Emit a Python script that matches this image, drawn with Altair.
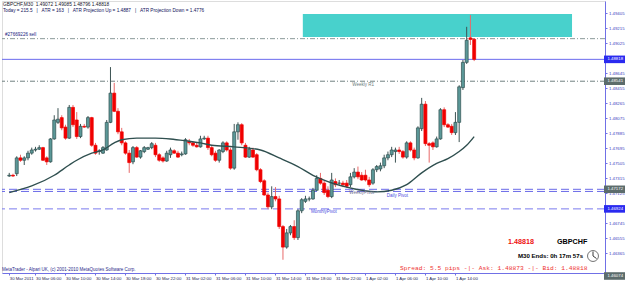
import altair as alt
import pandas as pd

# ---------------- data ----------------
opens = [
    1.4734, 1.4735, 1.4737, 1.4757, 1.4754, 1.4757, 1.4763, 1.4767, 1.4768, 1.4770,
    1.4757, 1.4752, 1.4781, 1.4802, 1.4808, 1.4796, 1.4782, 1.4821, 1.4805, 1.4784,
    1.4797, 1.4796, 1.4808, 1.4773, 1.4765, 1.4763, 1.4767, 1.4802, 1.4839, 1.4816,
    1.4790, 1.4776, 1.4763, 1.4752, 1.4770, 1.4758, 1.4765, 1.4768, 1.4770, 1.4773,
    1.4761, 1.4757, 1.4753, 1.4761, 1.4766, 1.4763, 1.4761, 1.4762, 1.4778, 1.4776,
    1.4773, 1.4771, 1.4781, 1.4782, 1.4770, 1.4763, 1.4754, 1.4765, 1.4776, 1.4767,
    1.4744, 1.4790, 1.4799, 1.4773, 1.4758, 1.4767, 1.4761, 1.4742, 1.4728, 1.4710,
    1.4695, 1.4708, 1.4705, 1.4670, 1.4644, 1.4662, 1.4670, 1.4656, 1.4690, 1.4702,
    1.4705, 1.4705, 1.4716, 1.4731, 1.4725, 1.4716, 1.4708, 1.4727, 1.4725, 1.4725,
    1.4725, 1.4723, 1.4733, 1.4739, 1.4735, 1.4735, 1.4729, 1.4725, 1.4742, 1.4743,
    1.4747, 1.4757, 1.4761, 1.4765, 1.4767, 1.4765, 1.4758, 1.4776, 1.4767, 1.4757,
    1.4794, 1.4825, 1.4775, 1.4776, 1.4771, 1.4781, 1.4818, 1.4799, 1.4797, 1.4789,
    1.4802, 1.4846, 1.4878, 1.4909, 1.49072,
]
highs = [
    1.4738, 1.4737, 1.4759, 1.4761, 1.4759, 1.4766, 1.4770, 1.4771, 1.4773, 1.4771,
    1.4759, 1.4782, 1.4811, 1.4820, 1.4811, 1.4799, 1.4824, 1.4824, 1.4815, 1.4800,
    1.4800, 1.4810, 1.4809, 1.4776, 1.4768, 1.4772, 1.4805, 1.4872, 1.4852, 1.4820,
    1.4795, 1.4778, 1.4767, 1.4772, 1.4772, 1.4767, 1.4772, 1.4771, 1.4777, 1.4776,
    1.4763, 1.4759, 1.4766, 1.4770, 1.4768, 1.4766, 1.4765, 1.4782, 1.4781, 1.4778,
    1.4776, 1.4785, 1.4785, 1.4785, 1.4772, 1.4766, 1.4768, 1.4778, 1.4778, 1.4770,
    1.4800, 1.4802, 1.4801, 1.4776, 1.4771, 1.4770, 1.4763, 1.4744, 1.4730, 1.4713,
    1.4721, 1.4720, 1.4709, 1.4672, 1.4667, 1.4672, 1.4678, 1.4692, 1.4706, 1.4709,
    1.4708, 1.4719, 1.4735, 1.4738, 1.4729, 1.4721, 1.4738, 1.4731, 1.4729, 1.4728,
    1.4729, 1.4738, 1.4744, 1.4746, 1.4739, 1.4742, 1.4733, 1.4744, 1.4748, 1.4751,
    1.4761, 1.4765, 1.4771, 1.4770, 1.4771, 1.4767, 1.4778, 1.4778, 1.4770, 1.4797,
    1.4833, 1.4829, 1.4777, 1.4778, 1.4784, 1.4820, 1.4821, 1.4801, 1.4800, 1.4815,
    1.4849, 1.4881, 1.4923, 1.4938, 1.49085,
]
lows = [
    1.4733, 1.4733, 1.4734, 1.4752, 1.4748, 1.4754, 1.4761, 1.4765, 1.4767, 1.4753,
    1.4748, 1.4751, 1.4780, 1.4800, 1.4792, 1.4780, 1.4781, 1.4796, 1.4781, 1.4782,
    1.4795, 1.4794, 1.4771, 1.4761, 1.4761, 1.4762, 1.4766, 1.4801, 1.4815, 1.4787,
    1.4773, 1.4761, 1.4738, 1.4749, 1.4757, 1.4756, 1.4763, 1.4767, 1.4768, 1.4758,
    1.4752, 1.4751, 1.4752, 1.4757, 1.4762, 1.4757, 1.4759, 1.4761, 1.4773, 1.4771,
    1.4770, 1.4770, 1.4780, 1.4767, 1.4759, 1.4752, 1.4751, 1.4763, 1.4765, 1.4742,
    1.4742, 1.4780, 1.4773, 1.4757, 1.4757, 1.4757, 1.4740, 1.4725, 1.4709, 1.4692,
    1.4692, 1.4702, 1.4667, 1.4628, 1.4642, 1.4659, 1.4653, 1.4653, 1.4687, 1.4700,
    1.4702, 1.4704, 1.4715, 1.4723, 1.4710, 1.4706, 1.4706, 1.4720, 1.4723, 1.4720,
    1.4719, 1.4720, 1.4731, 1.4730, 1.4728, 1.4727, 1.4720, 1.4723, 1.4739, 1.4740,
    1.4744, 1.4754, 1.4758, 1.4751, 1.4762, 1.4756, 1.4756, 1.4765, 1.4754, 1.4756,
    1.4791, 1.4772, 1.4751, 1.4767, 1.4770, 1.4780, 1.4796, 1.4795, 1.4786, 1.4786,
    1.4777, 1.4843, 1.4876, 1.4900, 1.48796,
]
closes = [
    1.4735, 1.4734, 1.4757, 1.4754, 1.4757, 1.4763, 1.4767, 1.4768, 1.4770, 1.4754,
    1.4752, 1.4781, 1.4805, 1.4806, 1.4795, 1.4782, 1.4821, 1.4799, 1.4784, 1.4797,
    1.4796, 1.4808, 1.4773, 1.4763, 1.4766, 1.4770, 1.4802, 1.4839, 1.4816, 1.4790,
    1.4776, 1.4763, 1.4751, 1.4770, 1.4758, 1.4766, 1.4770, 1.4770, 1.4775, 1.4761,
    1.4754, 1.4753, 1.4763, 1.4767, 1.4763, 1.4758, 1.4762, 1.4780, 1.4776, 1.4773,
    1.4771, 1.4781, 1.4782, 1.4770, 1.4761, 1.4754, 1.4767, 1.4776, 1.4767, 1.4744,
    1.4790, 1.4799, 1.4776, 1.4758, 1.4768, 1.4758, 1.4742, 1.4727, 1.4710, 1.4695,
    1.4708, 1.4705, 1.4670, 1.4644, 1.4662, 1.4670, 1.4656, 1.4690, 1.4704, 1.4705,
    1.4705, 1.4716, 1.4731, 1.4725, 1.4713, 1.4708, 1.4729, 1.4723, 1.4725, 1.4723,
    1.4721, 1.4733, 1.4739, 1.4733, 1.4729, 1.4729, 1.4723, 1.4742, 1.4746, 1.4747,
    1.4757, 1.4761, 1.4767, 1.4767, 1.4765, 1.4758, 1.4776, 1.4767, 1.4757, 1.4795,
    1.4825, 1.4775, 1.4773, 1.4771, 1.4781, 1.4818, 1.4799, 1.4796, 1.4789, 1.4802,
    1.4847, 1.4878, 1.4906, 1.4907, 1.48818,
]

ma_idx = [0, 12, 16, 18, 22, 25, 28, 30, 34, 39, 43, 48, 51, 54, 60, 67, 72, 77, 81, 85,
          90, 94, 98, 102, 106, 110, 114, 117, 120, 122, 124]
ma_val = [1.4713, 1.4735, 1.4748, 1.4754, 1.4763, 1.4767, 1.4776, 1.4780, 1.4782, 1.4782,
          1.4781, 1.4778, 1.4776, 1.4773, 1.4771, 1.4767, 1.4757, 1.4746, 1.4735, 1.4727,
          1.4720, 1.4716, 1.4714, 1.4716, 1.4723, 1.4738, 1.4750, 1.4756, 1.4765, 1.4773,
          1.4784]

x_tick_idx = [0, 7, 15, 23, 31, 39, 47, 55, 63, 71, 79, 87, 95, 103, 111, 119]
x_tick_labels = ["30 Mar 2011", "30 Mar 06:00", "30 Mar 10:00", "30 Mar 14:00",
                 "30 Mar 18:00", "30 Mar 22:00", "31 Mar 02:00", "31 Mar 06:00",
                 "31 Mar 10:00", "31 Mar 14:00", "31 Mar 18:00", "31 Mar 22:00",
                 "1 Apr 02:00", "1 Apr 06:00", "1 Apr 10:00", "1 Apr 14:00"]

y_ticks = [1.49405, 1.49215, 1.49025, 1.48835, 1.48645, 1.48455, 1.48265, 1.48075,
           1.47885, 1.47695, 1.47505, 1.47315, 1.47125, 1.46935, 1.46745, 1.46555, 1.46365]

bid = 1.48818
sell_level = 1.4908
weekly_r1 = 1.48541
daily_pivot = 1.47172
weekly_pivot = 1.47145
monthly_pivot = 1.46924
bottom_level = 1.46074
zone_x = [78.3, 150.1]
zone_y = [1.4910, 1.49393]

box_levels = [bid, weekly_r1, daily_pivot, monthly_pivot, bottom_level]
box_labels = ["1.48818", "1.48541", "1.47172", "1.46924", "1.46074"]

# ---------------- layout / style ----------------
n = len(opens)
assert len(highs) == n and len(lows) == n and len(closes) == n
assert len(ma_idx) == len(ma_val)

W, H = 603, 272
X_DOMAIN = [-0.6, 157.56]
Y_DOMAIN = [1.46112, 1.49557]
xs = alt.Scale(domain=X_DOMAIN, nice=False, zero=False)
ys = alt.Scale(domain=Y_DOMAIN, nice=False, zero=False)

FRAME = "#7070e6"
AXLAB = "#3c3cc0"
BULL_FILL = "#5b9898"
BULL_EDGE = "#2f4f4f"
BULL_WICK = "#3d5454"
BEAR_FILL = "#f00000"
BEAR_WICK = "#e86a6a"
FONT = "Liberation Sans"

candles = pd.DataFrame({"i": list(range(n)), "open": opens, "high": highs,
                        "low": lows, "close": closes})
ma = pd.DataFrame({"i": ma_idx, "ma": ma_val})
zone_df = pd.DataFrame({"x0": [zone_x[0]], "x1": [zone_x[1]],
                        "y0": [zone_y[0]], "y1": [zone_y[1]]})

label_expr = ("[" + ",".join("'" + s + "'" for s in x_tick_labels) + "][indexof(["
              + ",".join(str(v) for v in x_tick_idx) + "], datum.value)]")

x_axis = alt.Axis(values=x_tick_idx, labelExpr=label_expr, labelAlign="left",
                  labelBaseline="top", labelFontSize=4.3, labelFont=FONT,
                  labelColor="#1c1c50", labelPadding=1.0, tickSize=2,
                  tickColor=FRAME, domainColor=FRAME, grid=False, title=None,
                  labelOverlap=False, labelFlush=False, labelBound=False)
y_axis = alt.Axis(orient="right", values=y_ticks, format=".5f", labelFontSize=4.3,
                  labelFont=FONT, labelColor=AXLAB, labelPadding=1.5, tickSize=2,
                  tickColor=FRAME, domainColor=FRAME, grid=False, title=None,
                  labelOverlap=False, labelFlush=False, labelBound=False,
                  labelBaseline="middle")


def X(field):
    return alt.X(field, scale=xs, axis=x_axis)


def Y(field):
    return alt.Y(field, scale=ys, axis=y_axis)


zone = alt.Chart(zone_df).mark_rect(color="#48d1cc").encode(
    x=X("x0:Q"), x2="x1:Q", y=Y("y0:Q"), y2="y1:Q")


def hline(level, color, dash=None, width=1.0):
    kw = dict(color=color, strokeWidth=width)
    if dash:
        kw["strokeDash"] = dash
    return alt.Chart(pd.DataFrame({"p": [level]})).mark_rule(**kw).encode(y=Y("p:Q"))


lines = [
    hline(sell_level, "#8a9a9a", [5, 2, 1, 2]),
    hline(weekly_r1, "#708080", [5, 2, 1, 2]),
    hline(bid, "#6b6bee", None, 1.0),
    hline(daily_pivot, "#6a6ae8", [8, 4]),
    hline(weekly_pivot, "#6a6ae8", [8, 4]),
    hline(monthly_pivot, "#7a7aee", [8, 4]),
]

up = "datum.close >= datum.open"
wicks = alt.Chart(candles).mark_rule(strokeWidth=1).encode(
    x=X("i:Q"), y=Y("low:Q"), y2="high:Q",
    color=alt.condition(up, alt.value(BULL_WICK), alt.value(BEAR_WICK)))

bodies = alt.Chart(candles).mark_bar(size=3, strokeWidth=0.7).encode(
    x=X("i:Q"), y=Y("open:Q"), y2="close:Q",
    fill=alt.condition(up, alt.value(BULL_FILL), alt.value(BEAR_FILL)),
    stroke=alt.condition(up, alt.value(BULL_EDGE), alt.value(BEAR_FILL)))

ma_line = alt.Chart(ma).mark_line(color="#2f4f4f", strokeWidth=1.4,
                                  interpolate="monotone").encode(
    x=X("i:Q"), y=Y("ma:Q"))


def label(text, x, y, size, color, align="left", weight="normal", font=FONT):
    return alt.Chart(pd.DataFrame({"t": [text]})).mark_text(
        align=align, baseline="middle", fontSize=size, color=color,
        fontWeight=weight, font=font).encode(
        x=alt.value(x), y=alt.value(y), text="t:N")


def level_label(text, idx, level, dy, color, size=4.5):
    return alt.Chart(pd.DataFrame({"t": [text], "i": [idx], "p": [level]})).mark_text(
        align="left", baseline="middle", dy=dy, fontSize=size, color=color,
        font=FONT).encode(x=X("i:Q"), y=Y("p:Q"), text="t:N")


NB = "\u00a0"
texts = [
    label("GBPCHF,M30" + NB * 2 + "1.49072 1.49085 1.48796 1.48818", 1, 4, 4.8, "#141428"),
    label("Today = 215.5" + NB * 3 + "|" + NB * 3 + "ATR = 163" + NB * 3 + "|" + NB * 3
          + "ATR Projection Up = 1.4887" + NB * 3 + "|" + NB * 3
          + "ATR Projection Down = 1.4776", 1, 10, 4.7, "#10105a"),
    label("#27669226 sell", 3, 34, 4.6, "#1a1a80"),
    label("MetaTrader - Alpari UK, (c) 2001-2010 MetaQuotes Software Corp.", 0, 269,
          4.5, "#2a2a8a"),
    label("1.48818", 506, 241, 7.2, "#ee1111", weight="bold"),
    label("GBPCHF", 555, 241, 7.2, "#000000", weight="bold"),
    label("M30 Ends: 0h 17m 57s", 516, 255, 6.1, "#000000", weight="bold"),
    label("Spread: 5.5 pips -|- Ask: 1.48873 -|- Bid: 1.48818", 398, 267, 6.25,
          "#ee3333", font="Liberation Mono"),
    level_label("Weekly R1", 91.5, weekly_r1, 4, "#6c7c7c"),
    level_label("WeeklyPivot", 90.7, weekly_pivot, 2, "#707090"),
    level_label("Daily Pivot", 100.7, weekly_pivot, 5, "#4a4ae0"),
    level_label("MonthlyPivot", 80.5, monthly_pivot, 3.5, "#4a4ae0"),
]

# clock icon
one = pd.DataFrame({"a": [0]})
clock = [
    alt.Chart(one).mark_point(shape="circle", filled=False, size=120, color="#222222",
                              strokeWidth=0.9).encode(x=alt.value(591), y=alt.value(255)),
    alt.Chart(one).mark_rule(color="#222222", strokeWidth=0.9).encode(
        x=alt.value(591), y=alt.value(250.5), y2=alt.value(255)),
    alt.Chart(one).mark_rule(color="#222222", strokeWidth=0.9).encode(
        x=alt.value(591), x2=alt.value(594.5), y=alt.value(255), y2=alt.value(257.5)),
]

# highlighted price-axis boxes
box_df = pd.DataFrame({"p": box_levels, "t": box_labels,
                       "c": ["#2a2af0", "#5c6c6c", "#5c6c6c", "#2a2af0", "#5c6c6c"]})
box_df["top"] = box_df["p"] + 0.00048
box_df["bot"] = box_df["p"] - 0.00048
boxes = alt.Chart(box_df).mark_rect().encode(
    x=alt.value(602), x2=alt.value(623),
    y=Y("top:Q"), y2="bot:Q",
    color=alt.Color("c:N", scale=None))
box_text = alt.Chart(box_df).mark_text(align="left", baseline="middle", fontSize=4.3,
                                       color="white", font=FONT).encode(
    x=alt.value(605.5), y=Y("p:Q"), text="t:N")

chart = alt.layer(
    zone, *lines, wicks, bodies, ma_line, *texts, *clock, boxes, box_text
).properties(
    width=W, height=H,
    padding={"left": 2, "top": 1, "right": 20, "bottom": 11},
    autosize=alt.AutoSizeParams(type="none"),
).configure_view(stroke=FRAME, strokeWidth=1).configure(background="white")

chart.save("out.html", embed_options={"renderer": "svg", "actions": False})
